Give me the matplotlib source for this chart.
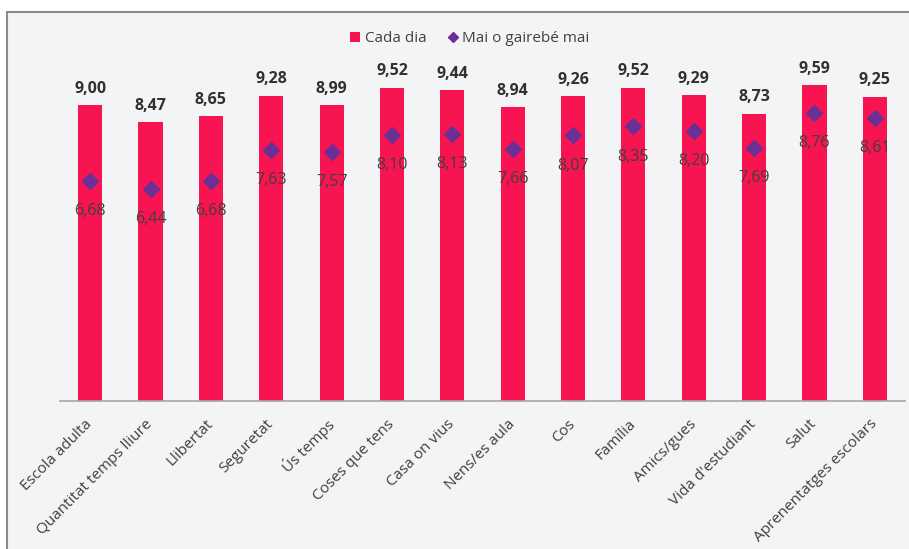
import numpy as np
import matplotlib.pyplot as plt
from matplotlib.patches import Rectangle

plt.rcParams['font.family'] = ['Open Sans', 'DejaVu Sans']

cats = ['Escola adulta', 'Quantitat temps lliure', 'Llibertat', 'Seguretat',
        'Ús temps', 'Coses que tens', 'Casa on vius', 'Nens/es aula', 'Cos',
        'Família', 'Amics/gues', "Vida d'estudiant", 'Salut',
        'Aprenentatges escolars']
cada_dia = [9.00, 8.47, 8.65, 9.28, 8.99, 9.52, 9.44, 8.94, 9.26, 9.52,
            9.29, 8.73, 9.59, 9.25]
mai = [6.68, 6.44, 6.68, 7.63, 7.57, 8.10, 8.13, 7.66, 8.07, 8.35,
       8.20, 7.69, 8.76, 8.61]

bar_col = '#f71450'
dia_col = '#6b2f96'
txt_col = '#404040'
bg = '#f3f4f6'

fig = plt.figure(figsize=(9.09, 5.49), dpi=100)
fig.patch.set_facecolor('white')
# gray panel with border
fig.add_artist(Rectangle((7.5 / 909, -0.05), 1.1, 1.05 - 12 / 549,
                         transform=fig.transFigure, facecolor=bg,
                         edgecolor='#8a8a8a', lw=1.5, zorder=-1))

ax = fig.add_axes([60 / 909, (549 - 401) / 549, 845 / 909, 329 / 549])
ax.set_facecolor('none')
ax.set_zorder(1)

x = np.arange(len(cats))
bars = ax.bar(x, cada_dia, width=0.4, color=bar_col, zorder=2)
pts, = ax.plot(x, mai, linestyle='none', marker='D', markersize=8,
               color=dia_col, zorder=3)

fmt = lambda v: f'{v:.2f}'.replace('.', ',')
for xi, v in zip(x, cada_dia):
    ax.annotate(fmt(v), (xi, v), xytext=(0, 6), textcoords='offset points',
                ha='center', va='bottom', fontsize=11.5, fontweight='bold',
                color='#303030', annotation_clip=False)
for xi, v in zip(x, mai):
    ax.annotate(fmt(v), (xi, v), xytext=(0, -16), textcoords='offset points',
                ha='center', va='top', fontsize=11.5, color=txt_col, zorder=4)

ax.set_xlim(-0.5, len(cats) - 0.5)
ax.set_ylim(0, 10)
ax.set_yticks([])
ax.set_xticks(x)
ax.set_xticklabels(cats, rotation=45, ha='right', va='center',
                   rotation_mode='anchor', fontsize=11, color=txt_col)
ax.tick_params(axis='x', length=0, pad=15)
for lbl in ax.get_xticklabels():
    lbl.set_x(lbl.get_position()[0])
for s in ['top', 'right', 'left']:
    ax.spines[s].set_visible(False)
ax.spines['bottom'].set_color('#a6a6a6')
ax.spines['bottom'].set_linewidth(1.2)

leg_pt = plt.Line2D([], [], linestyle='none', marker='D', markersize=5.5,
                    color=dia_col)
fig.legend([bars, leg_pt], ['Cada dia', 'Mai o gairebé mai'], loc='center',
           bbox_to_anchor=(470 / 909, 1 - 38.5 / 549), ncol=2, frameon=False,
           fontsize=11, handlelength=0.65, handleheight=0.65,
           handletextpad=0.3, columnspacing=1.4, labelcolor=txt_col)

fig.savefig('out.png', dpi=100, facecolor=fig.get_facecolor())
